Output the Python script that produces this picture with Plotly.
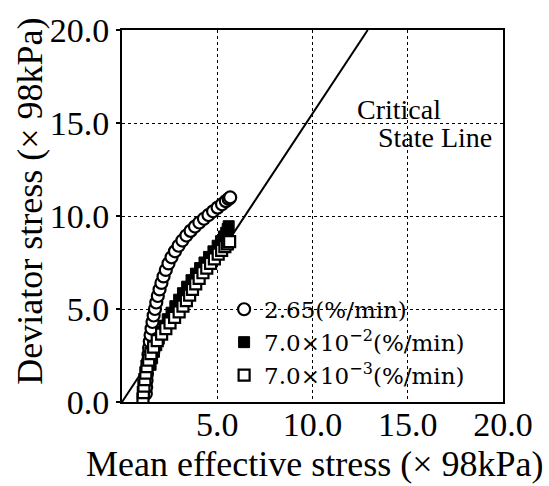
import plotly.graph_objects as go

# 2.65 %/min  (open circles)
p_fast = [1.25,1.27,1.29,1.31,1.33,1.36,1.39,1.42,1.46,1.5,1.55,1.6,1.66,1.73,1.8,1.88,1.97,2.07,2.18,2.3,2.44,2.6,2.78,2.97,3.17,3.38,3.6,3.83,4.06,4.3,4.54,4.78,5.02,5.25,5.45,5.6,5.68]
q_fast = [0.45,0.8,1.15,1.5,1.85,2.2,2.55,2.9,3.25,3.6,3.95,4.3,4.65,5.0,5.35,5.7,6.05,6.4,6.75,7.1,7.45,7.78,8.1,8.4,8.68,8.95,9.2,9.43,9.65,9.85,10.05,10.25,10.45,10.63,10.8,10.92,11.0]

# 7.0e-2 %/min (filled squares)
p_mid = [1.5,1.58,1.68,1.8,1.93,2.07,2.23,2.4,2.6,2.8,3.0,3.2,3.42,3.65,3.88,4.1,4.33,4.57,4.8,5.02,5.2,5.35,5.47,5.55,5.6]
q_mid = [2.0,2.35,2.7,3.05,3.4,3.75,4.1,4.45,4.8,5.15,5.5,5.85,6.2,6.55,6.9,7.2,7.5,7.8,8.1,8.4,8.65,8.9,9.1,9.3,9.45]

# 7.0e-3 %/min (open squares)
p_slow = [1.1,1.12,1.15,1.2,1.25,1.31,1.4,1.52,1.66,1.85,2.08,2.3,2.52,2.76,3.0,3.2,3.38,3.55,3.7,3.87,4.05,4.25,4.45,4.65,4.85,5.05,5.23,5.4,5.53,5.65]
q_slow = [0.15,0.5,0.85,1.2,1.55,1.9,2.25,2.6,2.95,3.3,3.65,3.95,4.25,4.55,4.85,5.15,5.45,5.75,6.05,6.35,6.65,6.95,7.2,7.45,7.7,7.95,8.15,8.35,8.5,8.62]

# Critical state line
csl_p = [0.0, 12.9]
csl_q = [0.0, 20.0]

tick_vals = [0, 5, 10, 15, 20]
x_tick_text = ["", "5.0", "10.0", "15.0", "20.0"]
y_tick_text = ["0.0", "5.0", "10.0", "15.0", "20.0"]

FONT = "Liberation Serif"

fig = go.Figure()
fig.add_trace(go.Scatter(x=csl_p, y=csl_q, mode="lines",
                         line=dict(color="black", width=2), showlegend=False))
fig.add_trace(go.Scatter(x=p_fast, y=q_fast, mode="markers", name="2.65(%/min)",
                         marker=dict(symbol="circle", size=12, color="white",
                                     line=dict(color="black", width=2.2))))
fig.add_trace(go.Scatter(x=p_mid, y=q_mid, mode="markers", name="7.0×10<sup>−2</sup>(%/min)",
                         marker=dict(symbol="square", size=11, color="black",
                                     line=dict(color="black", width=1))))
fig.add_trace(go.Scatter(x=p_slow, y=q_slow, mode="markers", name="7.0×10<sup>−3</sup>(%/min)",
                         marker=dict(symbol="square", size=11, color="white",
                                     line=dict(color="black", width=2.2))))

axis_common = dict(range=[0, 20], tickvals=tick_vals, showgrid=True, gridcolor="black",
                   gridwidth=1.2, griddash="dot", zeroline=False, showline=True,
                   linecolor="black", linewidth=2, mirror=True,
                   tickfont=dict(family=FONT, size=34, color="black"))

fig.update_xaxes(**axis_common, ticktext=x_tick_text, ticks="", ticklabelstandoff=-9)
fig.update_yaxes(**axis_common, ticktext=y_tick_text, ticks="outside", ticklen=4,
                 tickcolor="black", tickwidth=1.5)

fig.update_layout(
    width=549, height=486,
    margin=dict(l=122, r=46, t=22, b=84),
    paper_bgcolor="white", plot_bgcolor="white",
    font=dict(family=FONT, color="black"),
    legend=dict(x=0.268, y=0.307, xanchor="left", yanchor="top",
                bgcolor="rgba(0,0,0,0)", font=dict(family="DejaVu Serif", size=23, color="black"),
                tracegroupgap=0, itemwidth=30),
    annotations=[
        dict(text="Critical", x=14.54, y=15.75, xref="x", yref="y", showarrow=False,
             xanchor="center", yanchor="middle",
             font=dict(family=FONT, size=28, color="black")),
        dict(text="State Line", x=16.43, y=14.2, xref="x", yref="y", showarrow=False,
             xanchor="center", yanchor="middle",
             font=dict(family=FONT, size=28, color="black")),
        dict(text="0.0", x=0, xshift=-28, y=-0.9, xref="x", yref="y", showarrow=False,
             xanchor="center", yanchor="middle",
             font=dict(family=FONT, size=34, color="black")),
        dict(text="Mean effective stress (× 98kPa)", x=0.507, y=-0.168, xref="paper",
             yref="paper", showarrow=False, xanchor="center", yanchor="middle",
             font=dict(family=FONT, size=36, color="black")),
        dict(text="Deviator stress (× 98kPa)", x=-0.24, y=0.54, xref="paper",
             yref="paper", showarrow=False, textangle=-90, xanchor="center", yanchor="middle",
             font=dict(family=FONT, size=36, color="black")),
    ],
)

fig.write_html("out.html")
